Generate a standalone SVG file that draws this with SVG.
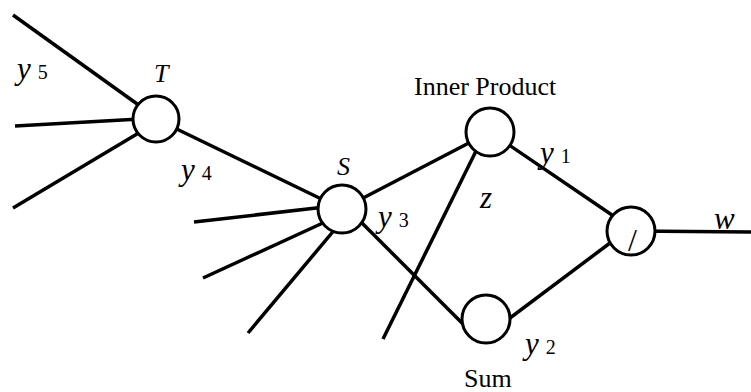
<svg xmlns="http://www.w3.org/2000/svg" width="751" height="392" viewBox="0 0 751 392">
<style>
.e{stroke:#000;stroke-width:3.5;fill:none;stroke-linecap:butt}
.n{stroke:#000;stroke-width:3;fill:#fff}
.t{font-family:"Liberation Serif","Times New Roman",serif;fill:#000}
.it{font-style:italic;font-size:31px}
.cap{font-style:italic;font-size:26px}
.d{font-size:20px}
.lb{font-size:26px}
</style>
<rect width="751" height="392" fill="#fff"/>
<g id="connectors">
<line class="e" x1="13" y1="15" x2="140" y2="106"/>
<line class="e" x1="15" y1="126" x2="140" y2="119"/>
<line class="e" x1="13" y1="208" x2="142" y2="131"/>
<line class="e" x1="156" y1="119" x2="342" y2="209"/>
<line class="e" x1="194" y1="222" x2="325" y2="207"/>
<line class="e" x1="203" y1="278" x2="325" y2="222"/>
<line class="e" x1="248" y1="333" x2="336" y2="228"/>
<line class="e" x1="342" y1="209" x2="490" y2="132"/>
<line class="e" x1="360" y1="221" x2="466" y2="327"/>
<line class="e" x1="383" y1="339" x2="478" y2="147"/>
<line class="e" x1="490" y1="132" x2="612" y2="215"/>
<line class="e" x1="506" y1="321" x2="614" y2="240"/>
<line class="e" x1="631" y1="231" x2="751" y2="232"/>
</g>
<g id="T"><circle class="n" cx="156" cy="119" r="23"/><text class="t cap" x="154" y="82">T</text></g>
<g id="S"><circle class="n" cx="342" cy="209" r="24"/><text class="t cap" x="337" y="175">S</text></g>
<g id="inner"><circle class="n" cx="490" cy="132" r="24"/><text class="t lb" x="414" y="95">Inner Product</text></g>
<g id="sum"><circle class="n" cx="486" cy="319" r="24"/><text class="t lb" x="464" y="387">Sum</text></g>
<g id="div"><circle class="n" cx="631" cy="231" r="24"/><text class="t" style="font-size:32px" x="628" y="251">/</text></g>
<g id="labels">
<text class="t" x="17" y="79"><tspan class="it">y</tspan><tspan class="d" dx="7">5</tspan></text>
<text class="t" x="181" y="180"><tspan class="it">y</tspan><tspan class="d" dx="7">4</tspan></text>
<text class="t" x="378" y="227"><tspan class="it">y</tspan><tspan class="d" dx="7">3</tspan></text>
<text class="t" x="540" y="163"><tspan class="it">y</tspan><tspan class="d" dx="7">1</tspan></text>
<text class="t" x="525" y="354"><tspan class="it">y</tspan><tspan class="d" dx="7">2</tspan></text>
<text class="t it" x="480" y="208">z</text>
<text class="t it" x="714" y="229">w</text>
</g>
</svg>
